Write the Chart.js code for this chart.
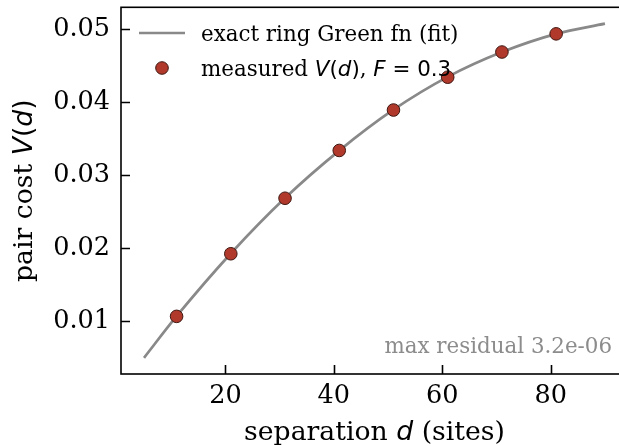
<!DOCTYPE html>
<html>
<head>
<meta charset="utf-8">
<script src="https://cdn.jsdelivr.net/npm/chart.js@4.4.1/dist/chart.umd.min.js"></script>
<style>
  html, body { margin: 0; padding: 0; background: #fff; overflow: hidden; }
  #wrap { width: 640px; height: 446px; }
</style>
</head>
<body>
<div id="wrap"><canvas id="chart" width="640" height="446"></canvas></div>
<script>
// values
const fitD = [5, 11, 21, 31, 41, 51, 61, 71, 81, 90];
const fitV = [0.0050, 0.0107, 0.0193, 0.0269, 0.0334, 0.0390, 0.0435, 0.0469, 0.0494, 0.0508];
const measD = [11, 21, 31, 41, 51, 61, 71, 81];
const measV = [0.01068, 0.01926, 0.02687, 0.03342, 0.03896, 0.04346, 0.04691, 0.04940];
const xTicks = [20, 40, 60, 80];
const yTicks = [0.01, 0.02, 0.03, 0.04, 0.05];
const xRange = [0.75, 94.25];
const yRange = [0.00278, 0.05304];
const residualNote = "max residual 3.2e-06";

const SERIF = '"DejaVu Serif"';
const SANS = '"DejaVu Sans"';
const LINE_COL = "#898989";
const PT_FILL = "#b0392c";
const PT_EDGE = "#3f1812";

// draw a run of text pieces with mixed fonts (serif text + mathtext-like italics)
function drawRuns(ctx, runs, x, y, align) {
    let total = 0;
    runs.forEach(r => { ctx.font = r.f; total += ctx.measureText(r.t).width; });
    let cx = align === "center" ? x - total / 2 : (align === "right" ? x - total : x);
    ctx.textAlign = "left";
    runs.forEach(r => {
        ctx.font = r.f;
        ctx.fillText(r.t, cx, y);
        cx += ctx.measureText(r.t).width;
    });
}

function sr(t, s) { return { t, f: s + "px " + SERIF }; }
function mi(t, s) { return { t, f: "italic " + s + "px " + SANS }; }
function mu(t, s) { return { t, f: s + "px " + SANS }; }

const decorPlugin = {
    id: "decor",
    afterDraw(chart) {
        const ctx = chart.ctx;
        const a = chart.chartArea;
        const xs = chart.scales.x, ys = chart.scales.y;
        ctx.save();

        // frame
        ctx.strokeStyle = "#000";
        ctx.lineWidth = 1.6;
        ctx.strokeRect(a.left, a.top, a.right - a.left, a.bottom - a.top);

        // inward ticks
        ctx.beginPath();
        xTicks.forEach(v => {
            const px = Math.round(xs.getPixelForValue(v)) + 0.5;
            ctx.moveTo(px, a.bottom);
            ctx.lineTo(px, a.bottom - 9);
        });
        yTicks.forEach(v => {
            const py = Math.round(ys.getPixelForValue(v)) + 0.5;
            ctx.moveTo(a.left, py);
            ctx.lineTo(a.left + 9, py);
        });
        ctx.stroke();

        // legend
        ctx.textBaseline = "alphabetic";
        ctx.strokeStyle = LINE_COL;
        ctx.lineWidth = 2.7;
        ctx.beginPath();
        ctx.moveTo(139, 33);
        ctx.lineTo(185, 33);
        ctx.stroke();
        ctx.beginPath();
        ctx.arc(162, 68, 6.3, 0, Math.PI * 2);
        ctx.fillStyle = PT_FILL;
        ctx.fill();
        ctx.strokeStyle = PT_EDGE;
        ctx.lineWidth = 1;
        ctx.stroke();
        ctx.fillStyle = "#000";
        const ls = 21.4;
        drawRuns(ctx, [sr("exact ring Green fn (fit)", ls)], 201, 41, "left");
        drawRuns(ctx, [sr("measured ", ls), mi("V", ls), mu("(", ls), mi("d", ls), mu(")", ls),
            sr(", ", ls), mi("F", ls), mu(" = 0.3", ls)], 201, 76, "left");

        // residual note
        ctx.fillStyle = "#8c8c8c";
        drawRuns(ctx, [sr(residualNote, 21.4)], 612, 353, "right");

        // axis titles
        ctx.fillStyle = "#000";
        const ts = 26.7;
        drawRuns(ctx, [sr("separation ", ts), mi("d", ts), sr(" (sites)", ts)],
            (a.left + a.right) / 2, 440, "center");
        ctx.translate(32, (a.top + a.bottom) / 2);
        ctx.rotate(-Math.PI / 2);
        drawRuns(ctx, [sr("pair cost ", ts), mi("V", ts), mu("(", ts), mi("d", ts), mu(")", ts)],
            0, 0, "center");
        ctx.restore();
    }
};

const tickFont = { family: "DejaVu Serif", size: 25.5 };

new Chart(document.getElementById("chart"), {
    type: "scatter",
    data: {
        datasets: [
            {
                label: "exact ring Green fn (fit)",
                data: fitD.map((d, i) => ({ x: d, y: fitV[i] })),
                showLine: true,
                borderColor: LINE_COL,
                borderWidth: 2.7,
                pointRadius: 0,
                cubicInterpolationMode: "monotone",
                order: 2
            },
            {
                label: "measured V(d), F = 0.3",
                data: measD.map((d, i) => ({ x: d, y: measV[i] })),
                showLine: false,
                pointRadius: 6.3,
                backgroundColor: PT_FILL,
                borderColor: PT_EDGE,
                borderWidth: 1,
                order: 1
            }
        ]
    },
    options: {
        responsive: false,
        animation: false,
        devicePixelRatio: 1,
        layout: { padding: { top: 5, right: 12, left: 0, bottom: 0 } },
        plugins: { legend: { display: false }, tooltip: { enabled: false } },
        scales: {
            x: {
                type: "linear",
                min: xRange[0],
                max: xRange[1],
                afterBuildTicks: s => { s.ticks = xTicks.map(v => ({ value: v })); },
                afterFit: s => { s.height = 72; s.paddingLeft = 0; s.paddingRight = 0; },
                grid: { display: false, drawTicks: false },
                border: { display: false },
                ticks: { font: tickFont, color: "#000", padding: 7, maxRotation: 0, callback: v => String(v) }
            },
            y: {
                type: "linear",
                min: yRange[0],
                max: yRange[1],
                afterBuildTicks: s => { s.ticks = yTicks.map(v => ({ value: v })); },
                afterFit: s => { s.width = 121; s.paddingTop = 0; s.paddingBottom = 0; },
                grid: { display: false, drawTicks: false },
                border: { display: false },
                ticks: { font: tickFont, color: "#000", padding: 11, callback: v => v.toFixed(2) }
            }
        }
    },
    plugins: [decorPlugin]
});
</script>
</body>
</html>
